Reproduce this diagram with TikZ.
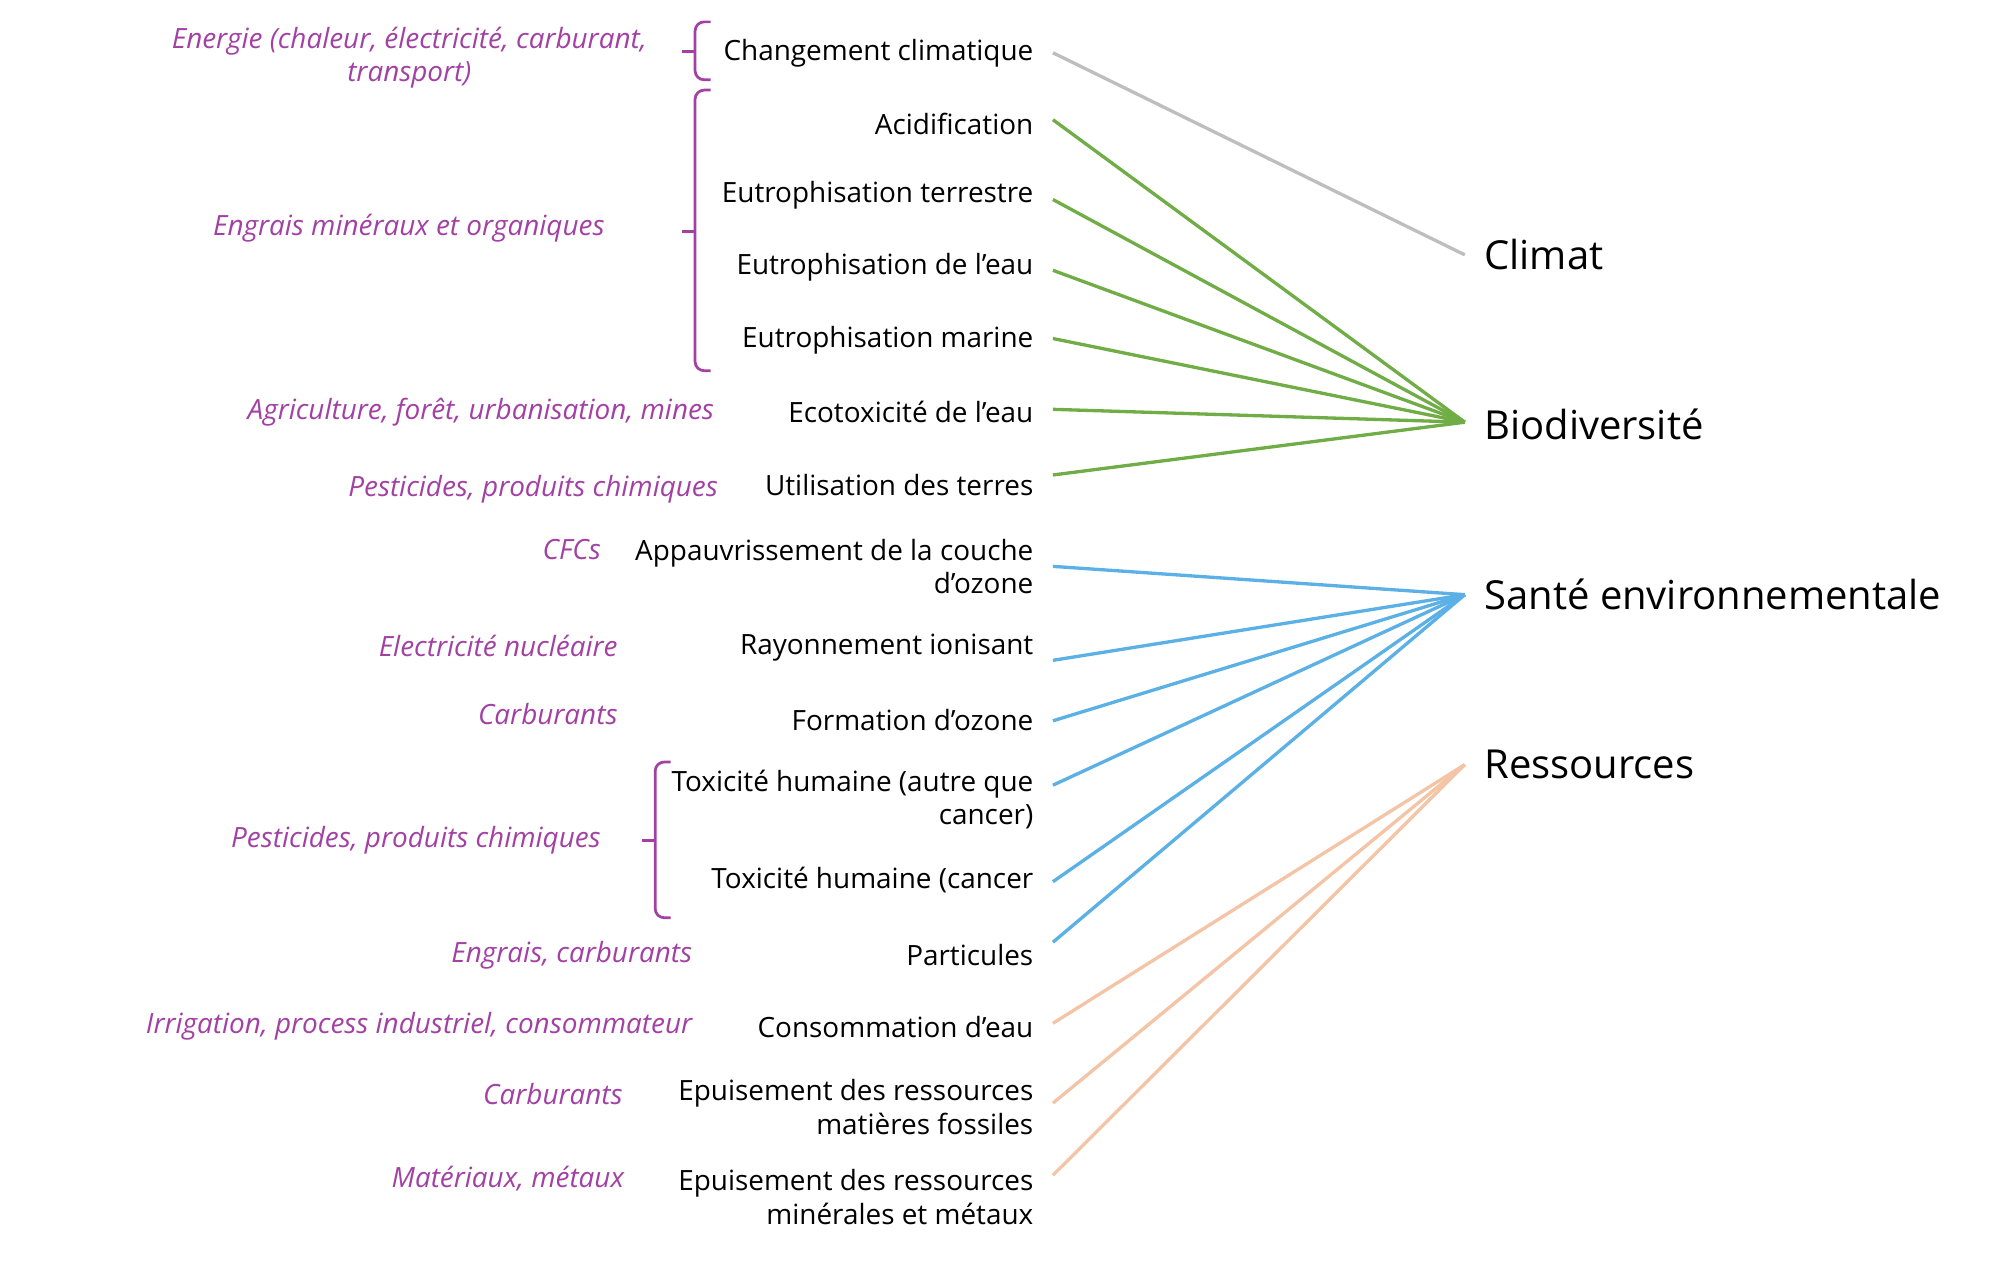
\documentclass[tikz,border=0pt]{standalone}
\usepackage{fontspec}
\setmainfont{Open Sans}
\definecolor{pur}{RGB}{162,64,164}
\definecolor{gre}{RGB}{112,173,71}
\definecolor{blu}{RGB}{91,176,230}
\definecolor{pea}{RGB}{244,196,166}
\definecolor{gry}{RGB}{190,190,190}
\begin{document}
\begin{tikzpicture}[x=0.03cm,y=-0.03cm,
 mid/.style={anchor=east,align=right,font=\fontsize{18.5}{22}\selectfont,inner sep=0},
 cat/.style={anchor=west,font=\fontsize{26.5}{30}\selectfont,inner sep=0},
 src/.style={anchor=east,align=right,text=pur,font=\fontsize{18.5}{22}\selectfont\itshape,inner sep=0},
 br/.style={pur,line width=1.8pt,rounded corners=6},
 ln/.style={line width=2.2pt}]
\useasboundingbox (0,0) rectangle (1560,985);
% categories
\node[cat] (clim) at (1153,198) {Climat};
\node[cat] (bio) at (1153,330) {Biodiversité};
\node[cat] (sante) at (1153,462) {Santé environnementale};
\node[cat] (res) at (1153,594) {Ressources};
\coordinate (cC) at (1138,198);
\coordinate (cB) at (1138,328);
\coordinate (cS) at (1138,462);
\coordinate (cR) at (1138,594);
% middle labels
\node[mid] (m1) at (803,41) {Changement climatique};
\node[mid] (m2) at (803,96) {Acidification};
\node[mid] (m3) at (803,152) {Eutrophisation terrestre};
\node[mid] (m4) at (803,208) {Eutrophisation de l’eau};
\node[mid] (m5) at (803,264) {Eutrophisation marine};
\node[mid] (m6) at (803,320) {Ecotoxicité de l’eau};
\node[mid] (m7) at (803,377) {Utilisation des terres};
\node[mid] (m8) at (803,440) {Appauvrissement de la couche\\d’ozone};
\node[mid] (m9) at (803,503) {Rayonnement ionisant};
\node[mid] (m10) at (803,559) {Formation d’ozone};
\node[mid] (m11) at (803,621) {Toxicité humaine (autre que\\cancer)};
\node[mid] (m12) at (803,684) {Toxicité humaine (cancer};
\node[mid] (m13) at (803,742) {Particules};
\node[mid] (m14) at (803,798) {Consommation d’eau};
\node[mid] (m15) at (803,860) {Epuisement des ressources\\matières fossiles};
\node[mid] (m16) at (803,930) {Epuisement des ressources\\minérales et métaux};
% start points
\coordinate (s1) at (818,41);
\coordinate (s2) at (818,93);
\coordinate (s3) at (818,155);
\coordinate (s4) at (818,210);
\coordinate (s5) at (818,263);
\coordinate (s6) at (818,318);
\coordinate (s7) at (818,369);
\coordinate (s8) at (818,440);
\coordinate (s9) at (818,513);
\coordinate (s10) at (818,560);
\coordinate (s11) at (818,610);
\coordinate (s12) at (818,685);
\coordinate (s13) at (818,732);
\coordinate (s14) at (818,795);
\coordinate (s15) at (818,857);
\coordinate (s16) at (818,913);
\draw[ln,gry] (s1) -- (cC);
\foreach \i in {2,...,7} \draw[ln,gre] (s\i) -- (cB);
\foreach \i in {8,...,13} \draw[ln,blu] (s\i) -- (cS);
\foreach \i in {14,15,16} \draw[ln,pea] (s\i) -- (cR);
% sources
\node[src,align=center,anchor=center] (p1) at (318,45) {Energie (chaleur, électricité, carburant,\\transport)};
\node[src] (p2) at (470,177) {Engrais minéraux et organiques};
\node[src] (p3) at (555,320) {Agriculture, forêt, urbanisation, mines};
\node[src] (p4) at (558,380) {Pesticides, produits chimiques};
\node[src] (p5) at (467,427) {CFCs};
\node[src] (p6) at (480,502) {Electricité nucléaire};
\node[src] (p7) at (480,555) {Carburants};
\node[src] (p8) at (467,653) {Pesticides, produits chimiques};
\node[src] (p9) at (538,742) {Engrais, carburants};
\node[src] (p10) at (538,797) {Irrigation, process industriel, consommateur};
\node[src] (p11) at (484,850) {Carburants};
\node[src] (p12) at (485,916) {Matériaux, métaux};
% braces
\coordinate (b1t) at (552,17); \coordinate (b1b) at (552,62);
\coordinate (b2t) at (552,70); \coordinate (b2b) at (552,288);
\coordinate (b3t) at (521,592); \coordinate (b3b) at (521,713);
\draw[br] (b1t) -- ++(-12,0) -- ++(0,45) -- (b1b);
\draw[pur,line width=1.8pt] (540,40) -- ++(-10,0);
\draw[br] (b2t) -- ++(-12,0) -- ++(0,218) -- (b2b);
\draw[pur,line width=1.8pt] (540,180) -- ++(-10,0);
\draw[br] (b3t) -- ++(-12,0) -- ++(0,121) -- (b3b);
\draw[pur,line width=1.8pt] (509,653) -- ++(-10,0);
\end{tikzpicture}
\end{document}
